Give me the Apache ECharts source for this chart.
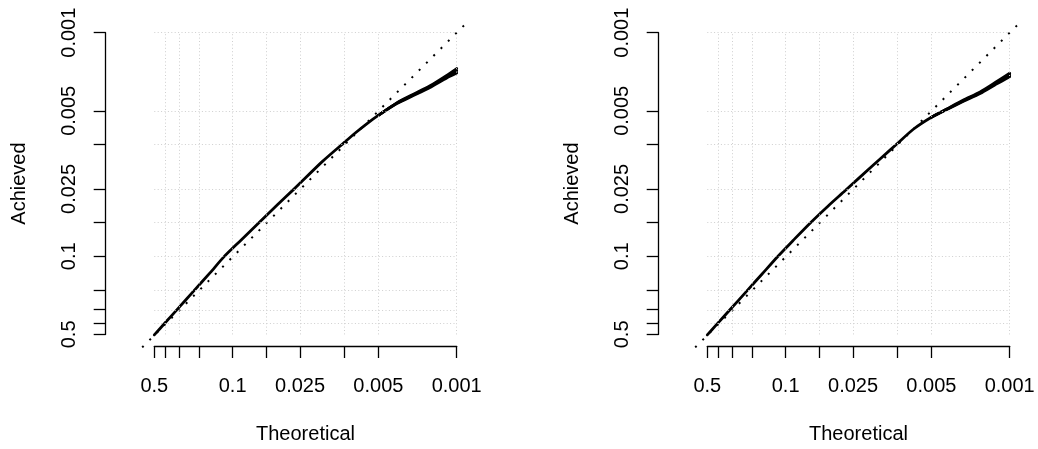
<!DOCTYPE html>
<html><head><meta charset="utf-8">
<script src="https://cdn.jsdelivr.net/npm/echarts@6/dist/echarts.min.js"></script>
<style>html,body{margin:0;padding:0;background:#fff}#c{width:1038px;height:449px}</style>
</head><body><div id="c"></div>
<script>
// tick positions (p-values) and labelled ticks
const tickP = [0.5, 0.4, 0.3, 0.2, 0.1, 0.05, 0.025, 0.01, 0.005, 0.001];
const labelP = ["0.5", "0.1", "0.025", "0.005", "0.001"];
const axisTitles = { x: "Theoretical", y: "Achieved" };

// curves in -log10(p) units: [theoretical, achieved]
const leftCurve = [[0.301,0.305],[0.40,0.415],[0.52,0.548],[0.65,0.693],[0.80,0.86],[0.92,0.998],[1.07,1.145],[1.23,1.30],[1.40,1.465],[1.55,1.607],[1.80,1.85],[2.00,2.024],[2.10,2.11],[2.20,2.19],[2.30,2.262],[2.465,2.371],[2.613,2.445],[2.762,2.519],[2.911,2.608],[3.0,2.66]];
const leftTailHi = [[2.30,2.262],[2.465,2.374],[2.613,2.451],[2.762,2.527],[2.911,2.62],[3.0,2.68]];
const leftTailLo = [[2.30,2.262],[2.465,2.368],[2.613,2.439],[2.762,2.511],[2.911,2.596],[3.0,2.64]];

const rightCurve = [[0.301,0.305],[0.385,0.398],[0.497,0.522],[0.653,0.695],[0.79,0.848],[0.926,1.0],[1.07,1.15],[1.218,1.301],[1.38,1.455],[1.53,1.59],[1.783,1.82],[1.843,1.874],[2.0,2.014],[2.14,2.139],[2.301,2.246],[2.438,2.317],[2.587,2.394],[2.736,2.465],[2.885,2.555],[3.0,2.623]];
const rightTailHi = [[2.301,2.246],[2.438,2.32],[2.587,2.4],[2.736,2.472],[2.885,2.565],[3.0,2.638]];
const rightTailLo = [[2.301,2.246],[2.438,2.314],[2.587,2.388],[2.736,2.458],[2.885,2.545],[3.0,2.608]];

const tickV = tickP.map(p => -Math.log10(p));
const labelV = labelP.map(s => -Math.log10(parseFloat(s)));
const d0 = tickV[0], d1 = tickV[tickV.length - 1];
const ext = 0.04 * (d1 - d0);
const lo = d0 - ext, hi = d1 + ext;

const FONT = 'Liberation Sans';
const fmt = v => { for (let i = 0; i < labelV.length; i++) if (Math.abs(labelV[i] - v) < 1e-6) return labelP[i]; return ''; };

const panels = [
  { dx: 0, curve: leftCurve, hiT: leftTailHi, loT: leftTailLo },
  { dx: 553, curve: rightCurve, hiT: rightTailHi, loT: rightTailLo }
];

const grid = [], xAxis = [], yAxis = [], series = [];
panels.forEach((p, k) => {
  const gA = grid.length;
  grid.push({ left: 142.2 + p.dx, top: 20.6, width: 326.6, height: 326.8 });
  const gB = grid.length;
  grid.push({ left: 154.3 + p.dx, top: 32.7, width: 302.4, height: 302.6 });
  const xa = xAxis.length;
  xAxis.push({ gridIndex: gA, type: 'value', min: lo, max: hi, show: false });
  const xb = xAxis.length;
  xAxis.push({
    gridIndex: gB, type: 'value', min: d0, max: d1, position: 'bottom', offset: 11.6,
    name: axisTitles.x, nameLocation: 'middle', nameGap: 78,
    nameTextStyle: { fontFamily: FONT, fontSize: 20, color: '#000' },
    axisLine: { show: true, lineStyle: { color: '#000', width: 1.3 } },
    axisTick: { show: true, customValues: tickV, length: 12, inside: false, lineStyle: { color: '#000', width: 1.3 } },
    axisLabel: { customValues: labelV, formatter: fmt, margin: 30, fontFamily: FONT, fontSize: 20, color: '#000', showMinLabel: true, showMaxLabel: true },
    splitLine: { show: false }
  });
  const ya = yAxis.length;
  yAxis.push({ gridIndex: gA, type: 'value', min: lo, max: hi, show: false });
  const yb = yAxis.length;
  yAxis.push({
    gridIndex: gB, type: 'value', min: d0, max: d1, position: 'left', offset: 48.6,
    name: axisTitles.y, nameLocation: 'middle', nameGap: 76,
    nameTextStyle: { fontFamily: FONT, fontSize: 20, color: '#000' },
    axisLine: { show: true, lineStyle: { color: '#000', width: 1.3 } },
    axisTick: { show: true, customValues: tickV, length: 12, inside: false, lineStyle: { color: '#000', width: 1.3 } },
    axisLabel: { customValues: labelV, formatter: fmt, margin: 26, rotate: 90, fontFamily: FONT, fontSize: 20, color: '#000', showMinLabel: true, showMaxLabel: true },
    splitLine: { show: false }
  });
  // grid lines
  series.push({
    type: 'line', xAxisIndex: xb, yAxisIndex: yb, data: [], silent: true,
    markLine: {
      silent: true, symbol: 'none', animation: false, label: { show: false },
      lineStyle: { color: '#cfcfcf', width: 1, type: [1, 2.4] },
      data: tickV.map(v => ({ xAxis: v })).concat(tickV.map(v => ({ yAxis: v })))
    }
  });
  // diagonal reference line
  series.push({
    type: 'line', xAxisIndex: xa, yAxisIndex: ya, data: [[lo, lo], [hi, hi]],
    symbol: 'none', silent: true,
    lineStyle: { color: '#000', width: 2, type: [2, 8.3] }
  });
  [p.curve, p.hiT, p.loT].forEach(d => {
    series.push({
      type: 'line', xAxisIndex: xa, yAxisIndex: ya, data: d, symbol: 'none', smooth: 0.25, silent: true,
      lineStyle: { color: '#000', width: 2.8, cap: 'round', join: 'round' }
    });
  });
});

const chart = echarts.init(document.getElementById('c'), null, { renderer: 'canvas' });
chart.setOption({ animation: false, backgroundColor: '#fff', grid, xAxis, yAxis, series });
</script></body></html>
